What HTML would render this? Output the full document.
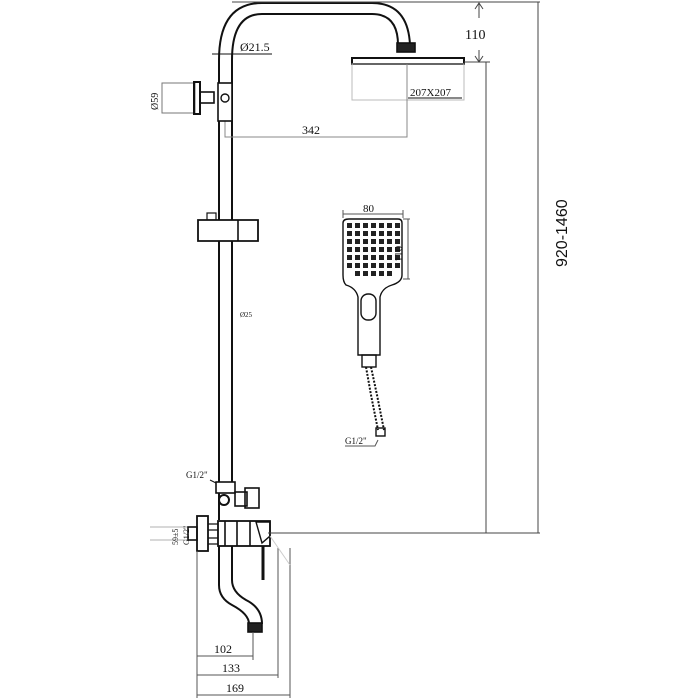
<!DOCTYPE html>
<html><head><style>html,body{margin:0;padding:0;background:#fff}svg{display:block}</style></head><body>
<svg width="700" height="700" viewBox="0 0 700 700" xmlns="http://www.w3.org/2000/svg" font-family="Liberation Serif, serif" fill="none" stroke="#111" stroke-width="1.6">
<!-- main pipe + arc -->
<path d="M219,520 V60 Q219,3 262,3 H372 Q408,3 410,45" stroke-width="2"/>
<path d="M232,482 V60 Q232,14 262,14 H372 Q398,14 398,45" stroke-width="2"/>
<rect x="397" y="43" width="18" height="9" fill="#222"/>
<rect x="352" y="58" width="112" height="6" fill="#fff" stroke-width="2"/>
<rect x="352" y="64" width="112" height="36" stroke="#bbb" stroke-width="1"/>
<line x1="408" y1="98" x2="462" y2="98" stroke-width="1"/>
<text x="410" y="96" font-size="11" fill="#111" stroke="none">207X207</text>
<!-- Ø21.5 -->
<line x1="212" y1="54" x2="272" y2="54" stroke-width="1"/>
<text x="240" y="51" font-size="12" fill="#111" stroke="none">Ø21.5</text>
<!-- 342 -->
<path d="M225,118 V137 H407 V64" stroke="#888" stroke-width="1"/>
<text x="302" y="134" font-size="12" fill="#111" stroke="none">342</text>
<!-- wall bracket -->
<rect x="162" y="83" width="33" height="30" stroke="#777" stroke-width="1"/>
<rect x="194" y="82" width="6" height="32" stroke-width="2"/>
<rect x="200" y="92" width="14" height="11" stroke-width="1.6"/>
<rect x="218" y="83" width="14" height="38" fill="#fff" stroke-width="1.6"/>
<circle cx="225" cy="98" r="4" stroke-width="1.4"/>
<text transform="translate(158,100) rotate(-90)" x="-10" y="0" font-size="10" fill="#111" stroke="none">Ø59</text>
<!-- slider -->
<rect x="207" y="213" width="9" height="7" stroke-width="1.2"/>
<path d="M198,220 H233 L258,220 V241 H233 H198 Z" fill="#fff" stroke-width="1.8"/>
<line x1="238" y1="220" x2="238" y2="241"/>
<text x="240" y="317" font-size="7" fill="#111" stroke="none">Ø25</text>
<!-- diverter -->
<text x="186" y="478" font-size="9" fill="#111" stroke="none">G1/2"</text>
<line x1="210" y1="480" x2="218" y2="484" stroke-width="1"/>
<rect x="216" y="482" width="19" height="11" fill="#fff"/>
<circle cx="224" cy="500" r="5" stroke-width="2"/>
<rect x="235" y="492" width="12" height="14"/>
<rect x="245" y="488" width="14" height="20"/>
<!-- mixer -->
<path d="M150,527 H188 M150,540 H188" stroke="#999" stroke-width="0.8"/>
<rect x="188" y="527" width="9" height="13"/>
<rect x="197" y="516" width="11" height="35" stroke-width="1.8"/>
<path d="M208,524 H218 M208,530 H218 M208,538 H218 M208,544 H218" stroke-width="1.2"/>
<rect x="218" y="521" width="52" height="25" fill="#fff" stroke-width="1.8"/>
<path d="M225,521 V546 M237,521 V546 M250,521 V546"/>
<path d="M256,522 L270,522 L270,536 L262,543 Z" stroke-width="1.4"/>
<path d="M263,546 V580" stroke-width="3"/>
<text transform="translate(178,545) rotate(-90)" font-size="8" fill="#111" stroke="none">59±5</text>
<text transform="translate(189,545) rotate(-90)" font-size="8" fill="#111" stroke="none">G1/2"</text>
<!-- spout -->
<path d="M219,546 V585 Q219,598 232,605 Q249,614 249,624" stroke-width="2"/>
<path d="M232,546 V580 Q232,592 246,600 Q262,608 262,624" stroke-width="2"/>
<rect x="248" y="623" width="14" height="9" fill="#222"/>
<!-- dims bottom -->
<g stroke="#555" stroke-width="1">
<path d="M197,551 V698 M253,632 V660 M278,548 V678 M290,548 V698"/>
<path d="M197,656 H253 M197,675 H278 M197,695 H290"/>
<path d="M270,536 L290,565" stroke="#ccc"/>
</g>
<text x="214" y="653" font-size="12" fill="#111" stroke="none">102</text>
<text x="222" y="672" font-size="12" fill="#111" stroke="none">133</text>
<text x="226" y="692" font-size="12" fill="#111" stroke="none">169</text>
<!-- right dims -->
<g stroke="#444" stroke-width="1">
<path d="M232,2 H540 M464,62 H490 M268,533 H540"/>
<path d="M486,62 V533 M538,2 V533"/>
<path d="M479,4 L479,18 M475,9 L479,3 L483,9 M479,50 L479,62 M475,56 L479,62 L483,56"/>
</g>
<text x="465" y="39" font-size="14" fill="#111" stroke="none">110</text>
<text transform="translate(567,267) rotate(-90)" font-family="Liberation Sans, sans-serif" font-size="16" fill="#111" stroke="none">920-1460</text>
<!-- hand shower -->
<g stroke-width="1.4">
<path d="M349,219 H398 Q402,219 402,223 V275 Q402,282 392,285 Q382,288 380,297 V355 H358 V297 Q356,288 346,285 Q343,282 343,275 V223 Q343,219 349,219 Z"/>
<rect x="361" y="294" width="15" height="26" rx="7"/>
<rect x="362" y="355" width="14" height="12"/>
<path d="M366,367 L371,395 L378,430 M371,367 L377,395 L384,430" stroke-width="2" stroke-dasharray="2 1.5"/>
<rect x="376" y="428" width="9" height="8"/>
</g>
<g fill="#222" stroke="none">
<rect x="347" y="223" width="5" height="5"/><rect x="355" y="223" width="5" height="5"/><rect x="363" y="223" width="5" height="5"/><rect x="371" y="223" width="5" height="5"/><rect x="379" y="223" width="5" height="5"/><rect x="387" y="223" width="5" height="5"/><rect x="395" y="223" width="5" height="5"/>
<rect x="347" y="231" width="5" height="5"/><rect x="355" y="231" width="5" height="5"/><rect x="363" y="231" width="5" height="5"/><rect x="371" y="231" width="5" height="5"/><rect x="379" y="231" width="5" height="5"/><rect x="387" y="231" width="5" height="5"/><rect x="395" y="231" width="5" height="5"/>
<rect x="347" y="239" width="5" height="5"/><rect x="355" y="239" width="5" height="5"/><rect x="363" y="239" width="5" height="5"/><rect x="371" y="239" width="5" height="5"/><rect x="379" y="239" width="5" height="5"/><rect x="387" y="239" width="5" height="5"/><rect x="395" y="239" width="5" height="5"/>
<rect x="347" y="247" width="5" height="5"/><rect x="355" y="247" width="5" height="5"/><rect x="363" y="247" width="5" height="5"/><rect x="371" y="247" width="5" height="5"/><rect x="379" y="247" width="5" height="5"/><rect x="387" y="247" width="5" height="5"/><rect x="395" y="247" width="5" height="5"/>
<rect x="347" y="255" width="5" height="5"/><rect x="355" y="255" width="5" height="5"/><rect x="363" y="255" width="5" height="5"/><rect x="371" y="255" width="5" height="5"/><rect x="379" y="255" width="5" height="5"/><rect x="387" y="255" width="5" height="5"/><rect x="395" y="255" width="5" height="5"/>
<rect x="347" y="263" width="5" height="5"/><rect x="355" y="263" width="5" height="5"/><rect x="363" y="263" width="5" height="5"/><rect x="371" y="263" width="5" height="5"/><rect x="379" y="263" width="5" height="5"/><rect x="387" y="263" width="5" height="5"/><rect x="395" y="263" width="5" height="5"/>
<rect x="355" y="271" width="5" height="5"/><rect x="363" y="271" width="5" height="5"/><rect x="371" y="271" width="5" height="5"/><rect x="379" y="271" width="5" height="5"/><rect x="387" y="271" width="5" height="5"/>
</g>
<g stroke="#555" stroke-width="1">
<path d="M343,214 H403 M343,210 V218 M403,210 V218"/>
<path d="M403,219 H410 M403,279 H410 M408,219 V279"/>
<path d="M345,446 H375 L378,440"/>
</g>
<text x="363" y="212" font-size="11" fill="#111" stroke="none">80</text>
<text transform="translate(402,262) rotate(-90)" font-size="11" fill="#111" stroke="none">110</text>
<text x="345" y="444" font-size="9" fill="#111" stroke="none">G1/2"</text>
</svg>
</body></html>
